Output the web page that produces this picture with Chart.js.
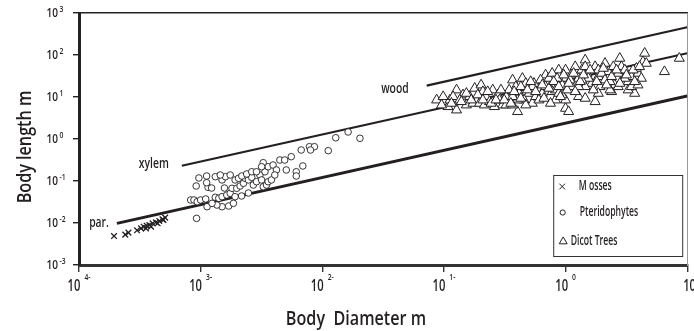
<!DOCTYPE html>
<html>
<head>
<meta charset="utf-8">
<script src="https://cdn.jsdelivr.net/npm/chart.js@4.4.1/dist/chart.umd.min.js"></script>
<style>
  html, body { margin: 0; padding: 0; background: #fff; }
  canvas { display: block; }
</style>
</head>
<body>
<canvas id="plantChart" width="694" height="331"></canvas>
<script>
// axis ticks (decades) and their superscripts, as printed
const xTicks = [1e-4, 1e-3, 1e-2, 1e-1, 1, 10];
const xTickSup = ['4-', '3-', '2-', '1-', '0', ''];
const yTicks = [1e3, 1e2, 1e1, 1, 1e-1, 1e-2, 1e-3];
const yTickSup = ['3', '2', '1', '0', '-1', '-2', '-3'];

// [body diameter m, body length m]
const mosses = [
  [1.94e-4, 4.9e-3], [2.40e-4, 5.28e-3], [2.55e-4, 5.89e-3], [3.00e-4, 6.69e-3],
  [3.24e-4, 7.46e-3], [3.40e-4, 8.18e-3], [3.55e-4, 7.46e-3], [3.60e-4, 8.64e-3],
  [3.79e-4, 8.96e-3], [3.91e-4, 8.18e-3], [4.03e-4, 9.82e-3], [4.29e-4, 0.0104],
  [4.43e-4, 9.82e-3], [4.57e-4, 0.0112], [4.86e-4, 0.0122], [4.95e-4, 0.0118],
  [5.11e-4, 0.0134]
];

const pteridophytes = [
  [8.28e-4, 0.0353], [8.81e-4, 0.0353], [9.37e-4, 0.0321], [1.0e-3, 0.0353],
  [1.10e-3, 0.0373], [1.13e-3, 0.0244], [1.32e-3, 0.0409], [1.41e-3, 0.0387],
  [1.50e-3, 0.0423], [1.64e-3, 0.0464], [1.75e-3, 0.0509], [1.70e-3, 0.0254],
  [1.50e-3, 0.0244], [1.36e-3, 0.0268], [1.24e-3, 0.0294], [1.86e-3, 0.0294],
  [1.92e-3, 0.0423], [1.81e-3, 0.067], [1.98e-3, 0.067], [2.11e-3, 0.076],
  [2.25e-3, 0.0881], [2.32e-3, 0.116], [2.47e-3, 0.106], [2.63e-3, 0.122],
  [2.71e-3, 0.0803], [2.88e-3, 0.0962], [3.07e-3, 0.139], [3.17e-3, 0.106],
  [3.27e-3, 0.0731], [3.48e-3, 0.0803], [3.59e-3, 0.0962], [3.82e-3, 0.106],
  [3.38e-3, 0.166], [3.59e-3, 0.219], [3.94e-3, 0.240], [4.20e-3, 0.183],
  [4.07e-3, 0.139], [4.48e-3, 0.316], [4.91e-3, 0.316], [5.06e-3, 0.183],
  [5.56e-3, 0.379], [6.11e-3, 0.166], [6.11e-3, 0.1315], [6.92e-3, 0.228],
  [6.71e-3, 0.547], [7.85e-3, 0.656], [8.62e-3, 0.656], [8.0e-3, 0.547],
  [0.0112, 0.527], [0.0129, 1.07], [0.0163, 1.47], [0.0204, 1.04],
  [1.50e-3, 0.106], [1.60e-3, 0.1266], [1.32e-3, 0.1266], [1.45e-3, 0.139],
  [1.75e-3, 0.139], [1.92e-3, 0.106], [2.05e-3, 0.116], [2.18e-3, 0.1315],
  [2.39e-3, 0.147], [2.63e-3, 0.166], [2.88e-3, 0.166], [3.27e-3, 0.273],
  [3.17e-3, 0.219], [9.19e-4, 0.076], [9.26e-4, 0.0129], [1.12e-3, 0.1315],
  [1.15e-3, 0.0708], [1.12e-3, 0.091], [9.67e-4, 0.118], [1.23e-3, 0.068],
  [1.57e-3, 0.068], [2.47e-3, 0.0518], [2.17e-3, 0.044]
];

const dicotTrees = [
  [0.10, 7.74], [0.108, 5.89], [0.127, 14.7], [0.1435, 11.2], [0.127, 4.90],
  [0.153, 6.45], [0.179, 16.1], [0.202, 19.3], [0.184, 8.48], [0.222, 10.2],
  [0.252, 14.7], [0.277, 11.2], [0.304, 6.45], [0.26, 5.89], [0.367, 25.4],
  [0.39, 17.6], [0.403, 4.48], [0.442, 27.8], [0.471, 21.1], [0.501, 12.2],
  [0.533, 7.07], [0.604, 16.1], [0.685, 33.4], [0.707, 21.1], [0.776, 13.4],
  [0.826, 8.48], [0.879, 43.9], [1.0, 27.8], [1.0, 5.37], [1.06, 4.48],
  [1.13, 17.6], [1.28, 27.8], [1.45, 76.0], [1.50, 36.6], [1.64, 21.1],
  [1.75, 7.74], [1.86, 30.5], [2.11, 63.3], [2.25, 40.1], [2.39, 13.4],
  [2.54, 19.3], [2.79, 83.3], [2.88, 52.7], [2.98, 27.8], [3.27, 23.2],
  [3.48, 30.5], [3.70, 12.2], [3.94, 36.6], [4.20, 27.8], [4.47, 110],
  [4.33, 69.4], [4.61, 63.3], [6.50, 40.1], [8.61, 83.3], [0.0871, 8.48],
  [0.0956, 6.45], [0.112, 8.48], [0.119, 10.2], [0.163, 10.2], [0.173, 7.07],
  [0.196, 7.07], [0.215, 6.45], [0.237, 7.74], [0.286, 8.48], [0.324, 10.2],
  [0.344, 14.7], [0.415, 12.2], [0.456, 8.48], [0.568, 10.2], [0.643, 12.2],
  [0.729, 27.8], [0.776, 36.6], [0.936, 19.3], [1.13, 36.6], [1.20, 52.7],
  [1.36, 43.9], [1.45, 17.6], [1.75, 52.7], [1.86, 43.9], [1.98, 36.6],
  [2.11, 25.4], [2.32, 23.2], [2.47, 52.7], [2.71, 36.6], [3.07, 43.9],
  [3.27, 14.7], [3.48, 17.6], [3.82, 48.1], [3.94, 19.3], [1.0, 8.48],
  [1.28, 10.2], [1.45, 9.30], [2.32, 14.7], [1.0, 43.9], [1.09, 25.4],
  [1.28, 17.6], [1.75, 17.6], [1.92, 17.6], [1.54, 27.8], [0.752, 7.07],
  [0.826, 14.7], [0.936, 11.2], [0.604, 8.48], [0.471, 6.45], [0.403, 8.48],
  [0.367, 10.2], [0.324, 6.45], [0.55, 21.1], [0.623, 25.4], [0.852, 27.8],
  [1.03, 14.7], [1.36, 25.4], [0.135, 8.48], [0.209, 13.4], [0.367, 6.45],
  [0.429, 17.6], [0.533, 17.6], [0.685, 17.6], [0.879, 12.2], [1.86, 12.2],
  [2.71, 17.6], [3.07, 27.8], [1.45, 52.7],
  [0.0986, 10.2], [0.1153, 7.07], [0.139, 7.74], [0.153, 12.2], [0.1677, 8.48],
  [0.190, 11.2], [0.209, 8.48], [0.229, 13.4], [0.244, 7.07], [0.268, 8.48],
  [0.2944, 14.7], [0.313, 8.48], [0.355, 7.07], [0.378, 13.4], [0.4285, 9.30],
  [0.4855, 14.7], [0.517, 23.2], [0.5675, 13.4], [0.643, 19.3], [0.664, 9.30],
  [0.729, 16.1], [0.80, 23.2], [0.879, 17.6], [0.907, 10.2], [0.966, 33.4],
  [1.06, 21.1], [1.165, 36.6], [1.20, 13.4], [1.32, 23.2], [1.405, 33.4],
  [1.59, 43.9], [1.69, 14.7], [1.804, 23.2], [2.044, 48.1], [2.176, 19.3],
  [2.39, 30.5], [2.625, 43.9], [2.794, 21.1], [3.166, 33.4], [3.59, 43.9],
  [4.06, 52.7], [3.70, 23.2]
];

// reference lines, start and end [diameter, length]
const parLine = [[2.05e-4, 0.0098], [10, 10.6]];
const xylemLine = [[7.0e-4, 0.231], [10, 110]];
const woodLine = [[0.0722, 18.6], [10, 457]];
const lineNames = ['par.', 'xylem', 'wood'];

const legendNames = ['M osses', 'Pteridophytes', 'Dicot Trees'];

const ink = '#231f20';
const FONT = '"Open Sans", "Noto Sans", sans-serif';

function toXY(arr) {
  return arr.map(p => ({ x: p[0], y: p[1] }));
}

function textWidth(ctx, str, size, sx) {
  ctx.font = '600 ' + size + 'px ' + FONT;
  return ctx.measureText(str).width * sx;
}

// draws horizontally condensed text, left aligned at x
function drawText(ctx, str, x, y, size, sx, baseline) {
  ctx.save();
  ctx.font = '600 ' + size + 'px ' + FONT;
  ctx.textAlign = 'left';
  ctx.textBaseline = baseline || 'middle';
  ctx.translate(x, y);
  ctx.scale(sx, 1);
  ctx.fillText(str, 0, 0);
  ctx.restore();
}

const decorations = {
  id: 'decorations',
  afterDraw(chart) {
    const ctx = chart.ctx;
    const xs = chart.scales.x;
    const ys = chart.scales.y;
    const area = chart.chartArea;
    ctx.save();
    ctx.fillStyle = ink;

    // x tick labels: 10 with superscript
    xTicks.forEach((v, i) => {
      const px = xs.getPixelForValue(v);
      const wb = textWidth(ctx, '10', 16, 0.7);
      const ws = xTickSup[i] ? textWidth(ctx, xTickSup[i], 9, 0.75) : 0;
      const left = ws ? px - (wb + 4 + ws) / 2 : px - 4;
      drawText(ctx, '10', left, area.bottom + 21, 16, 0.7);
      if (ws) drawText(ctx, xTickSup[i], left + wb + 4, area.bottom + 12, 9, 0.75);
    });

    // y tick labels
    yTicks.forEach((v, i) => {
      const py = ys.getPixelForValue(v);
      const left = area.left - 32.5;
      const wb = textWidth(ctx, '10', 12.6, 0.8);
      drawText(ctx, '10', left, py + 0.5, 12.6, 0.8);
      drawText(ctx, yTickSup[i], left + wb + 1.5, py - 3.5, 8.5, 0.8);
    });

    // axis titles
    const yt = 'Body length m';
    const wy = textWidth(ctx, yt, 19, 0.85);
    ctx.save();
    ctx.translate(31, 147 + wy / 2);
    ctx.rotate(-Math.PI / 2);
    drawText(ctx, yt, 0, 0, 19, 0.85, 'alphabetic');
    ctx.restore();

    const xt = 'Body  Diameter m';
    const wx = textWidth(ctx, xt, 19, 0.85);
    drawText(ctx, xt, 356 - wx / 2, 325, 19, 0.85, 'alphabetic');

    // labels at the start of each reference line
    const starts = [parLine[0], xylemLine[0], woodLine[0]];
    const offs = [[8, 0], [13, -2], [18, 3]];
    starts.forEach((p, i) => {
      const px = xs.getPixelForValue(p[0]);
      const py = ys.getPixelForValue(p[1]);
      const w = textWidth(ctx, lineNames[i], 14, 0.74);
      drawText(ctx, lineNames[i], px - offs[i][0] - w, py + offs[i][1], 14, 0.74);
    });

    // legend box
    const bx = area.right - 133.5, by = area.bottom - 89.5;
    const bw = 129, bh = 81;
    ctx.fillStyle = '#fff';
    ctx.fillRect(bx, by, bw, bh);
    ctx.strokeStyle = '#333';
    ctx.lineWidth = 1;
    ctx.strokeRect(bx, by, bw, bh);
    const styles = [
      { pointStyle: 'crossRot', radius: 4, rotation: 0, borderWidth: 1 },
      { pointStyle: 'circle', radius: 2.6, rotation: 0, borderWidth: 1 },
      { pointStyle: 'triangle', radius: 4.6, rotation: 0, borderWidth: 1 }
    ];
    const rowY = [11, 37, 66];
    const symX = [8.5, 9, 9.5];
    const txtX = [25, 26, 17];
    styles.forEach((s, i) => {
      ctx.fillStyle = '#fff';
      ctx.strokeStyle = ink;
      Chart.helpers.drawPoint(ctx, s, bx + symX[i], by + rowY[i]);
      ctx.fillStyle = ink;
      drawText(ctx, legendNames[i], bx + txtX[i], by + rowY[i], 13.5, 0.64);
    });
    ctx.restore();
  }
};

const lineStyle = (data, width) => ({
  type: 'scatter',
  data: toXY(data),
  showLine: true,
  borderColor: ink,
  borderWidth: width,
  pointRadius: 0,
  order: 10
});

new Chart(document.getElementById('plantChart'), {
  type: 'scatter',
  data: {
    datasets: [
      lineStyle(parLine, 3),
      lineStyle(xylemLine, 2.2),
      lineStyle(woodLine, 2.2),
      {
        label: legendNames[0],
        data: toXY(mosses),
        pointStyle: 'crossRot',
        pointRadius: 4,
        borderColor: ink,
        borderWidth: 1.3,
        order: 1
      },
      {
        label: legendNames[1],
        data: toXY(pteridophytes),
        pointStyle: 'circle',
        pointRadius: 3.3,
        backgroundColor: '#fff',
        borderColor: ink,
        borderWidth: 0.9,
        order: 2
      },
      {
        label: legendNames[2],
        data: toXY(dicotTrees),
        pointStyle: 'triangle',
        pointRadius: 5.8,
        backgroundColor: '#fff',
        borderColor: ink,
        borderWidth: 1,
        order: 3
      }
    ]
  },
  options: {
    responsive: false,
    animation: false,
    devicePixelRatio: 1,
    layout: { padding: { left: 73, top: 13, right: 2, bottom: 59 } },
    plugins: {
      legend: { display: false },
      tooltip: { enabled: false }
    },
    scales: {
      x: {
        type: 'logarithmic',
        position: 'bottom',
        min: 1e-4,
        max: 10,
        afterBuildTicks: (scale) => { scale.ticks = xTicks.map(v => ({ value: v })); },
        ticks: { display: false },
        grid: { drawOnChartArea: false, drawTicks: true, tickLength: 7, color: '#333', lineWidth: 1.4 },
        border: { display: true, color: '#333', width: 3 }
      },
      y: {
        type: 'logarithmic',
        position: 'left',
        min: 1e-3,
        max: 1e3,
        afterBuildTicks: (scale) => { scale.ticks = yTicks.map(v => ({ value: v })); },
        ticks: { display: false },
        grid: { drawOnChartArea: false, drawTicks: true, tickLength: 6, color: '#222', lineWidth: 1.4 },
        border: { display: true, color: '#222', width: 3 }
      },
      xTop: {
        type: 'linear',
        position: 'top',
        ticks: { display: false },
        grid: { display: false, drawTicks: false },
        border: { display: true, color: '#222', width: 1.4 }
      },
      yRight: {
        type: 'linear',
        position: 'right',
        ticks: { display: false },
        grid: { display: false, drawTicks: false },
        border: { display: true, color: '#999', width: 1 }
      }
    }
  },
  plugins: [decorations]
});
</script>
</body>
</html>
